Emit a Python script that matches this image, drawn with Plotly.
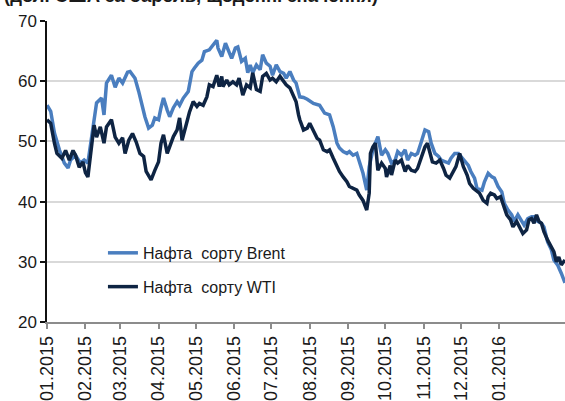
import plotly.graph_objects as go

brent_dates = [
    "2015-01-01", "2015-01-04", "2015-01-07", "2015-01-11", "2015-01-15", "2015-01-18", "2015-01-20", "2015-01-24", "2015-01-28", "2015-01-31",
    "2015-02-03", "2015-02-05", "2015-02-08", "2015-02-10", "2015-02-14", "2015-02-16", "2015-02-18", "2015-02-22", "2015-02-25", "2015-02-28",
    "2015-03-03", "2015-03-07", "2015-03-09", "2015-03-13", "2015-03-16", "2015-03-18", "2015-03-21", "2015-03-24", "2015-03-27", "2015-03-29",
    "2015-04-01", "2015-04-03", "2015-04-05", "2015-04-08", "2015-04-10", "2015-04-13", "2015-04-16", "2015-04-18", "2015-04-21", "2015-04-25", "2015-04-28", "2015-04-30",
    "2015-05-03", "2015-05-06", "2015-05-08", "2015-05-12", "2015-05-15", "2015-05-18", "2015-05-19", "2015-05-22", "2015-05-25", "2015-05-27", "2015-05-30",
    "2015-06-02", "2015-06-04", "2015-06-07", "2015-06-10", "2015-06-12", "2015-06-14", "2015-06-16", "2015-06-19", "2015-06-22", "2015-06-24", "2015-06-27", "2015-06-30",
    "2015-07-02", "2015-07-05", "2015-07-08", "2015-07-11", "2015-07-13", "2015-07-16", "2015-07-19", "2015-07-21", "2015-07-24", "2015-07-27", "2015-07-30",
    "2015-08-04", "2015-08-09", "2015-08-13", "2015-08-17", "2015-08-20", "2015-08-23", "2015-08-25", "2015-08-28", "2015-08-31",
    "2015-09-02", "2015-09-05", "2015-09-08", "2015-09-10", "2015-09-13", "2015-09-16", "2015-09-18", "2015-09-21", "2015-09-25", "2015-09-28",
    "2015-10-01", "2015-10-03", "2015-10-06", "2015-10-09", "2015-10-11", "2015-10-14", "2015-10-17", "2015-10-19", "2015-10-22", "2015-10-25", "2015-10-27", "2015-10-30",
    "2015-11-02", "2015-11-05", "2015-11-07", "2015-11-10", "2015-11-13", "2015-11-15", "2015-11-18", "2015-11-21", "2015-11-23", "2015-11-26", "2015-11-29",
    "2015-12-01", "2015-12-04", "2015-12-07", "2015-12-09", "2015-12-12", "2015-12-14", "2015-12-18", "2015-12-20", "2015-12-23", "2015-12-26", "2015-12-28", "2015-12-31",
    "2016-01-03", "2016-01-05", "2016-01-08", "2016-01-11", "2016-01-13", "2016-01-16", "2016-01-19", "2016-01-21", "2016-01-24", "2016-01-27", "2016-01-29",
    "2016-02-01", "2016-02-04", "2016-02-06", "2016-02-09", "2016-02-12", "2016-02-14", "2016-02-17", "2016-02-20", "2016-02-23",
]
brent_values = [
    56.0, 55.0, 51.4, 48.6, 46.4, 45.6, 46.9, 47.7, 46.4, 46.9,
    46.4, 49.0, 53.6, 56.4, 57.2, 54.4, 59.7, 61.0, 59.0, 60.5,
    59.7, 61.5, 61.6, 60.5, 58.3, 56.6, 54.1, 52.2, 52.7, 53.9,
    53.6, 55.6, 57.2, 55.2, 54.1, 55.6, 56.6, 56.0, 57.2, 58.3, 61.6, 62.2,
    63.0, 63.5, 64.9, 65.2, 66.0, 66.8, 65.5, 64.1, 66.3, 65.2, 63.8,
    65.5, 65.7, 63.3, 63.8, 61.4, 62.7, 61.4, 62.7, 61.9, 64.4, 63.0, 62.5,
    61.0, 62.7, 61.6, 61.3, 60.5, 61.6, 60.2, 59.7, 57.4, 57.3, 57.0,
    56.3, 56.0, 54.7, 54.4, 52.4, 49.7, 48.9, 48.3, 48.0,
    48.3, 47.7, 48.0, 46.6, 44.7, 41.9, 45.8, 48.6, 50.8, 47.7,
    48.6, 48.0, 46.4, 46.9, 48.3, 47.7, 48.6, 46.9, 48.0, 47.7, 48.0, 49.9,
    51.9, 51.6, 49.7, 48.0, 47.5, 46.9, 46.6, 46.4, 47.2, 48.0, 48.0,
    47.5, 46.9, 46.0, 45.0, 43.9, 42.2, 41.9, 43.3, 44.7, 44.1, 43.9, 42.5,
    41.6, 39.7, 38.6, 37.8, 36.7, 37.8, 36.7, 36.1, 37.2, 37.5, 37.5,
    36.7, 36.4, 35.8, 33.3, 32.0, 30.3, 29.5, 28.1, 26.5,
]

wti_dates = [
    "2015-01-01", "2015-01-04", "2015-01-07", "2015-01-09", "2015-01-13", "2015-01-16", "2015-01-19", "2015-01-22", "2015-01-24", "2015-01-27", "2015-01-30",
    "2015-02-01", "2015-02-03", "2015-02-05", "2015-02-08", "2015-02-10", "2015-02-13", "2015-02-16", "2015-02-18", "2015-02-22", "2015-02-25", "2015-02-28",
    "2015-03-03", "2015-03-05", "2015-03-08", "2015-03-11", "2015-03-14", "2015-03-17", "2015-03-20", "2015-03-22", "2015-03-25", "2015-03-26", "2015-03-29",
    "2015-04-01", "2015-04-03", "2015-04-05", "2015-04-08", "2015-04-10", "2015-04-13", "2015-04-16", "2015-04-18", "2015-04-20", "2015-04-21", "2015-04-24", "2015-04-26", "2015-04-29",
    "2015-05-02", "2015-05-04", "2015-05-07", "2015-05-10", "2015-05-12", "2015-05-15", "2015-05-18", "2015-05-20", "2015-05-22", "2015-05-23", "2015-05-26", "2015-05-28", "2015-05-31",
    "2015-06-03", "2015-06-05", "2015-06-08", "2015-06-11", "2015-06-14", "2015-06-16", "2015-06-19", "2015-06-22", "2015-06-24", "2015-06-27", "2015-06-30",
    "2015-07-02", "2015-07-05", "2015-07-08", "2015-07-11", "2015-07-13", "2015-07-16", "2015-07-19", "2015-07-21", "2015-07-23", "2015-07-24", "2015-07-27", "2015-07-30",
    "2015-08-01", "2015-08-04", "2015-08-07", "2015-08-09", "2015-08-12", "2015-08-15", "2015-08-17", "2015-08-20", "2015-08-23", "2015-08-25", "2015-08-28", "2015-08-31",
    "2015-09-02", "2015-09-05", "2015-09-08", "2015-09-10", "2015-09-13", "2015-09-16", "2015-09-18", "2015-09-19", "2015-09-21", "2015-09-23", "2015-09-25", "2015-09-28",
    "2015-10-01", "2015-10-02", "2015-10-05", "2015-10-06", "2015-10-09", "2015-10-11", "2015-10-14", "2015-10-17", "2015-10-19", "2015-10-22", "2015-10-25", "2015-10-27", "2015-10-30",
    "2015-11-02", "2015-11-04", "2015-11-06", "2015-11-08", "2015-11-11", "2015-11-14", "2015-11-17", "2015-11-19", "2015-11-22", "2015-11-25", "2015-11-27", "2015-11-30",
    "2015-12-03", "2015-12-06", "2015-12-08", "2015-12-11", "2015-12-14", "2015-12-16", "2015-12-19", "2015-12-22", "2015-12-23", "2015-12-25", "2015-12-28", "2015-12-30",
    "2016-01-02", "2016-01-04", "2016-01-07", "2016-01-10", "2016-01-12", "2016-01-15", "2016-01-18", "2016-01-20", "2016-01-23", "2016-01-25", "2016-01-27", "2016-01-29", "2016-01-31",
    "2016-02-02", "2016-02-04", "2016-02-06", "2016-02-09", "2016-02-12", "2016-02-14", "2016-02-16", "2016-02-18", "2016-02-20", "2016-02-23",
]
wti_values = [
    53.6, 53.0, 49.7, 48.0, 47.2, 48.5, 46.9, 48.5, 47.7, 45.7, 46.6,
    44.8, 44.1, 48.0, 52.7, 50.7, 52.4, 49.7, 52.4, 53.6, 50.7, 49.7,
    50.6, 48.0, 50.2, 51.3, 49.9, 48.0, 47.5, 45.0, 43.9, 43.6, 45.2,
    46.6, 49.7, 51.1, 48.0, 49.3, 50.8, 51.9, 53.9, 50.2, 51.1, 53.3, 54.9, 56.6,
    55.8, 56.3, 56.0, 57.4, 59.4, 59.1, 61.0, 59.1, 60.8, 59.1, 60.2, 59.4, 59.9,
    59.4, 60.5, 57.7, 59.4, 58.9, 61.4, 58.6, 58.3, 60.8, 61.3, 60.2,
    60.5, 59.9, 60.8, 59.9, 59.4, 58.9, 57.4, 56.6, 54.4, 53.6, 51.9, 52.2,
    53.0, 51.6, 50.5, 50.2, 48.6, 48.3, 48.6, 47.2, 45.8, 45.0, 44.1, 43.3,
    42.5, 42.2, 41.9, 41.1, 40.2, 38.6, 41.4, 48.0, 49.1, 49.7, 45.2, 46.4,
    45.5, 44.1, 46.0, 44.4, 46.9, 46.4, 46.9, 45.0, 46.0, 45.2, 45.0, 45.5, 47.5,
    49.1, 49.7, 48.0, 46.6, 46.4, 46.9, 45.5, 44.4, 43.9, 45.0, 45.8, 48.0,
    45.8, 44.4, 43.0, 42.2, 41.6, 41.4, 40.2, 39.7, 40.8, 41.4, 41.1, 40.5,
    40.8, 39.4, 37.8, 37.0, 35.8, 36.7, 35.6, 34.7, 35.3, 37.0, 37.2, 36.4, 37.8,
    36.7, 36.4, 35.0, 33.6, 32.5, 31.7, 30.0, 30.8, 29.5, 30.3,
]

month_ticks = ["2015-%02d-01" % m for m in range(1, 13)] + ["2016-01-01"]
month_labels = ["%02d.2015" % m for m in range(1, 13)] + ["01.2016"]

FONT = "Arial, Liberation Sans, sans-serif"

fig = go.Figure()
fig.add_trace(go.Scatter(x=brent_dates, y=brent_values, mode="lines", name="Нафта\u00a0 сорту Brent",
                         legendgroup="a", line=dict(color="#4a7ebf", width=3.5)))
fig.add_trace(go.Scatter(x=wti_dates, y=wti_values, mode="lines", name="Нафта\u00a0 сорту WTI",
                         legendgroup="b", line=dict(color="#0e2443", width=3.5)))

fig.update_layout(
    width=565, height=401,
    margin=dict(l=47, r=0, t=21, b=79),
    paper_bgcolor="white", plot_bgcolor="white",
    font=dict(family=FONT, size=16, color="#1a1a1a"),
    legend=dict(x=0.108, y=0.173, xanchor="left", yanchor="middle", bgcolor="rgba(0,0,0,0)",
                tracegroupgap=10, font=dict(size=16)),
    xaxis=dict(type="date", range=["2015-01-01", "2016-02-23"],
               tickvals=month_ticks, ticktext=month_labels, tickangle=-90,
               tickfont=dict(size=18), showgrid=False, showline=True,
               linecolor="#8c8c8c", linewidth=1.5, ticks="outside", ticklen=5,
               tickcolor="#8c8c8c", tickwidth=1.5, zeroline=False),
    yaxis=dict(range=[20, 70], dtick=10, tickfont=dict(size=17),
               showgrid=True, gridcolor="#d9d9d9", gridwidth=1.5,
               showline=True, linecolor="#111111", linewidth=1.5,
               ticks="outside", ticklen=5, tickcolor="#111111", tickwidth=1.5, zeroline=False),
)

# title is cut off at the top edge of the picture
fig.add_annotation(text="<b>(дол. США за барель, щоденні значення)</b>", xref="paper", yref="paper",
                   x=-0.087, y=1.043, xanchor="left", yanchor="bottom", showarrow=False,
                   font=dict(size=18.5, color="#1a1a1a"))

# drop the default page margin so the figure fills the window exactly
fig.write_html("out.html", config={"displayModeBar": False},
               post_script="document.body.style.margin='0';document.body.style.overflow='hidden';")
